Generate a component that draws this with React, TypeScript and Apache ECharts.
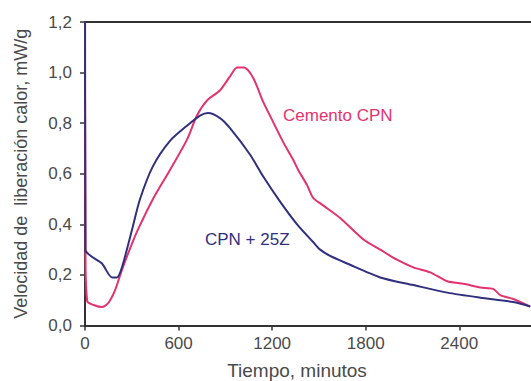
import React, { useEffect, useRef } from "react";
import * as echarts from "echarts";

const cpnTime = [0, 3, 15, 60, 109, 148, 193, 237, 302, 340, 436, 545, 654, 718, 783, 866, 930, 975, 1020, 1078, 1142, 1206, 1271, 1335, 1367, 1424, 1463, 1527, 1636, 1786, 1893, 2000, 2105, 2214, 2323, 2427, 2535, 2618, 2663, 2746, 2855];
const cpnValue = [1.6, 0.29, 0.095, 0.08, 0.073, 0.088, 0.14, 0.22, 0.325, 0.38, 0.5, 0.615, 0.735, 0.83, 0.89, 0.93, 0.985, 1.02, 1.02, 0.98, 0.885, 0.805, 0.725, 0.655, 0.615, 0.555, 0.505, 0.475, 0.425, 0.34, 0.3, 0.26, 0.23, 0.21, 0.175, 0.165, 0.15, 0.145, 0.12, 0.105, 0.075];

const zTime = [0, 3, 109, 173, 205, 237, 302, 353, 436, 545, 654, 738, 789, 866, 930, 1059, 1142, 1251, 1360, 1463, 1508, 1572, 1681, 1893, 2105, 2323, 2535, 2746, 2855];
const zValue = [1.6, 0.3, 0.245, 0.19, 0.19, 0.23, 0.38, 0.5, 0.63, 0.73, 0.79, 0.83, 0.84, 0.82, 0.78, 0.675, 0.59, 0.49, 0.4, 0.33, 0.3, 0.275, 0.245, 0.19, 0.16, 0.13, 0.11, 0.093, 0.075];

const seriesNames = ["Cemento CPN", "CPN + 25Z"];
const yTitle = "Velocidad de  liberación calor, mW/g";
const xTitle = "Tiempo, minutos";

const FONT = "'Liberation Sans', Arial, sans-serif";
const PINK = "#e2336f";
const BLUE = "#30307f";
const TEXT = "#4a4a4a";

export default function App() {
  const ref = useRef<HTMLDivElement>(null);
  useEffect(() => {
    const chart = echarts.init(ref.current!, null, { renderer: "svg" });
    const axisLine = { show: true, lineStyle: { color: "#333", width: 2 } };
    chart.setOption({
      animation: false,
      backgroundColor: "#ffffff",
      grid: { left: 85, top: 22, right: 0, bottom: 55.5 },
      xAxis: [
        {
          type: "value",
          min: 0,
          max: 2860,
          interval: 600,
          axisLine,
          axisTick: { show: true, length: 5, lineStyle: { color: "#333", width: 1.5 } },
          axisLabel: {
            showMaxLabel: false,
            color: TEXT,
            fontSize: 17,
            fontFamily: FONT,
            margin: 9,
            formatter: (v: number) => String(v),
          },
          splitLine: { show: false },
        },
        {
          type: "value",
          position: "top",
          min: 0,
          max: 2860,
          axisLine,
          axisTick: { show: false },
          axisLabel: { show: false },
          splitLine: { show: false },
        },
      ],
      yAxis: {
        type: "value",
        min: 0,
        max: 1.2,
        interval: 0.2,
        axisLine,
        axisTick: { show: true, length: 5, lineStyle: { color: "#333", width: 1.5 } },
        axisLabel: {
          color: TEXT,
          fontSize: 17,
          fontFamily: FONT,
          margin: 13,
          formatter: (v: number) => v.toFixed(1).replace(".", ","),
        },
        splitLine: { show: false },
        name: yTitle,
        nameLocation: "middle",
        nameGap: 55,
        nameTextStyle: { color: TEXT, fontSize: 18, fontFamily: FONT },
      },
      series: [
        {
          name: seriesNames[0],
          type: "line",
          data: cpnTime.map((t, i) => [t, cpnValue[i]]),
          showSymbol: false,
          smooth: 0.25,
          lineStyle: { color: PINK, width: 2 },
          clip: true,
        },
        {
          name: seriesNames[1],
          type: "line",
          data: zTime.map((t, i) => [t, zValue[i]]),
          showSymbol: false,
          smooth: 0.25,
          lineStyle: { color: BLUE, width: 2 },
          clip: true,
        },
      ],
      graphic: [
        {
          type: "text",
          left: 283,
          top: 107,
          style: { text: seriesNames[0], fill: PINK, font: `17px ${FONT}` },
        },
        {
          type: "text",
          left: 205,
          top: 231,
          style: { text: seriesNames[1], fill: BLUE, font: `17px ${FONT}` },
        },
        {
          type: "text",
          x: 297,
          y: 370,
          style: { text: xTitle, fill: TEXT, font: `19px ${FONT}`, align: "center", verticalAlign: "middle" },
        },
      ],
    });
    return () => chart.dispose();
  }, []);
  return <div ref={ref} style={{ width: 531, height: 381, position: "absolute", left: 0, top: 0 }} />;
}
